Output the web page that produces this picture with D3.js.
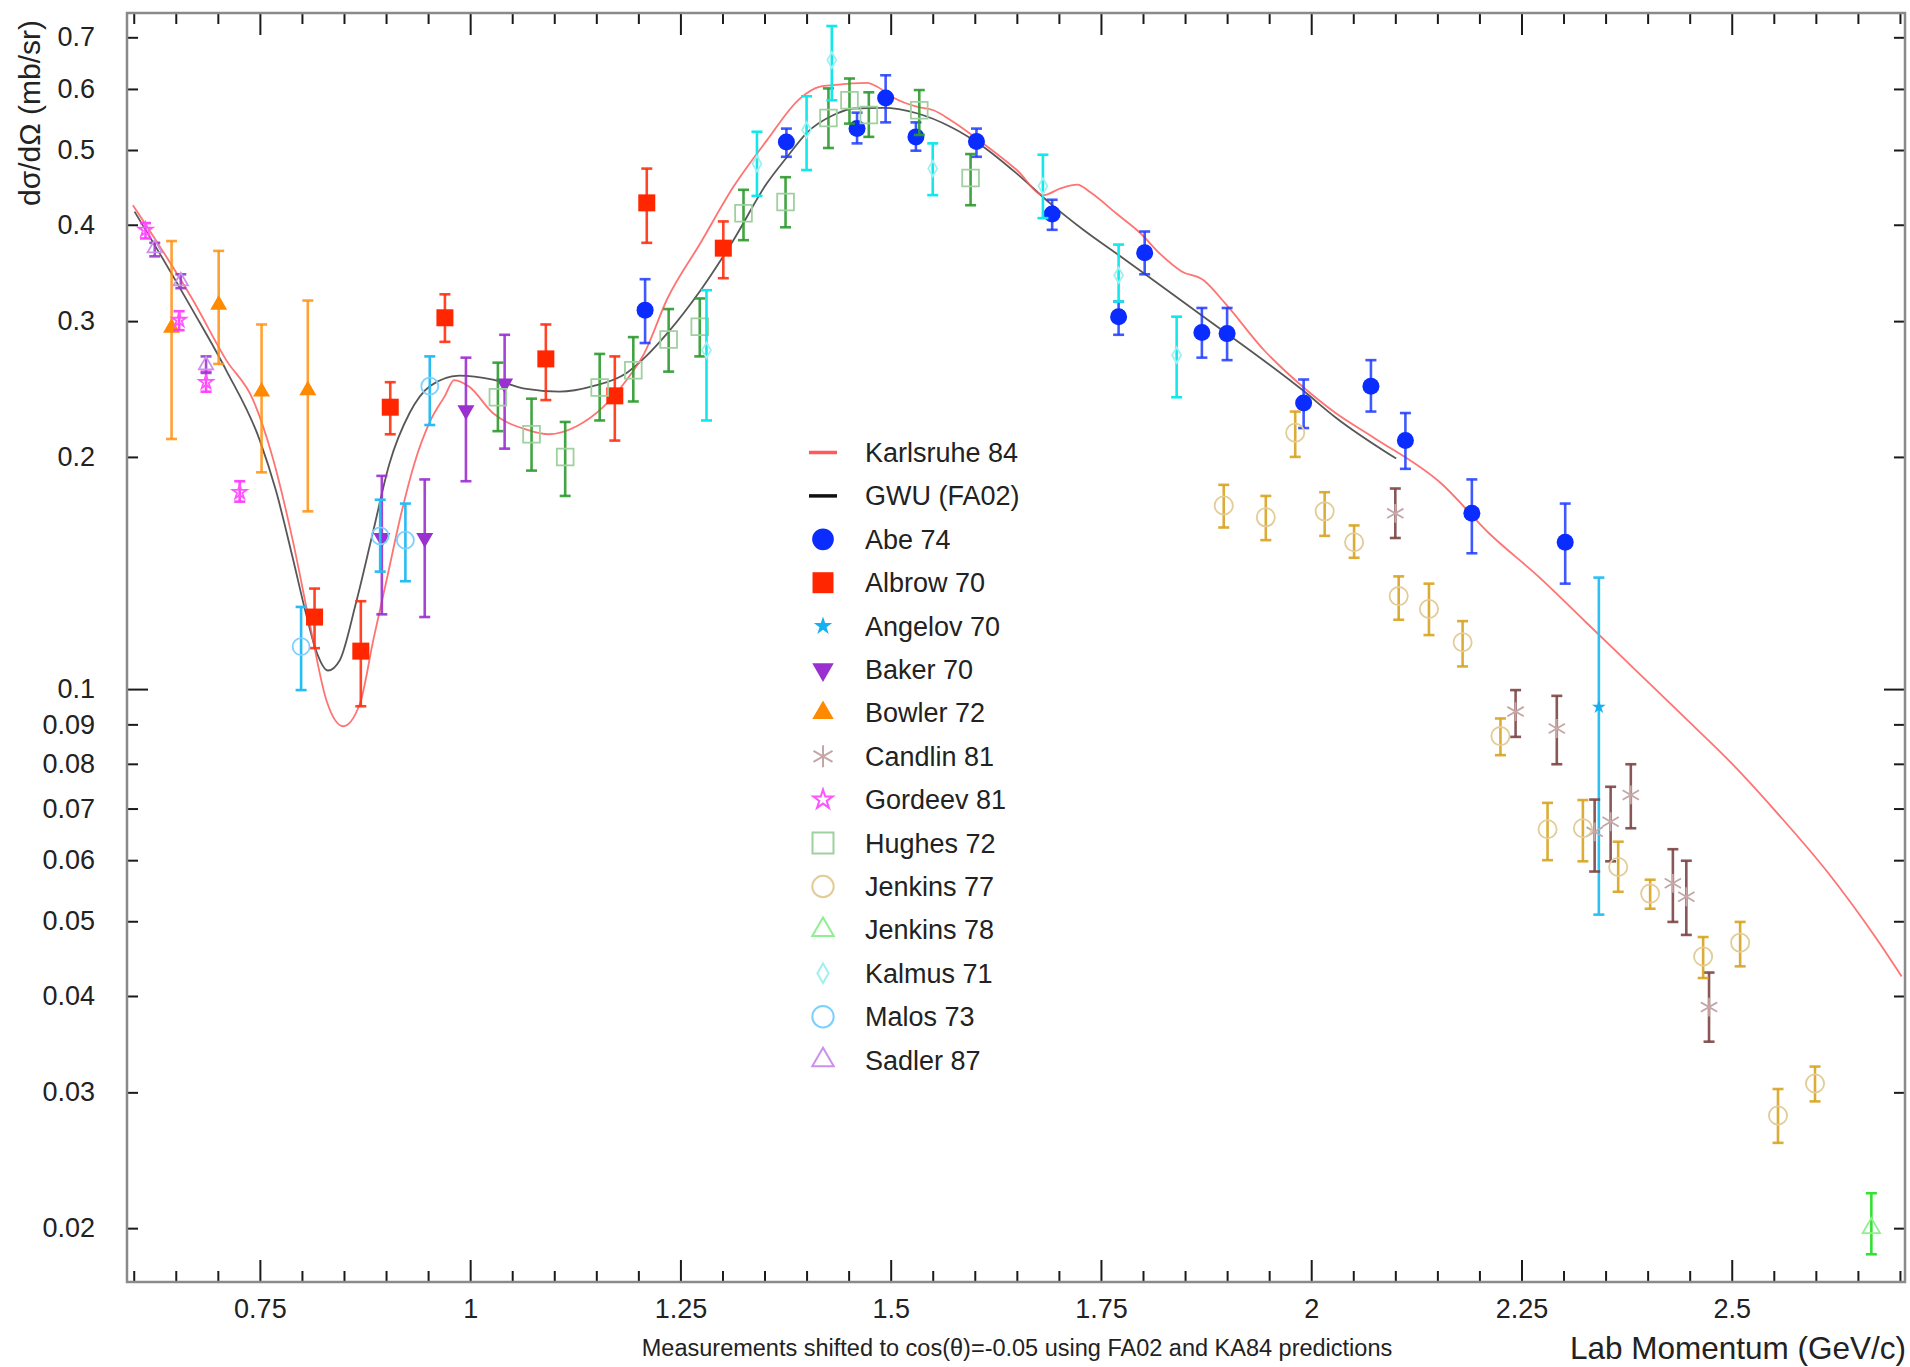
<!DOCTYPE html>
<html>
<head>
<meta charset="utf-8">
<script src="https://cdn.jsdelivr.net/npm/d3@7"></script>
<style>
  html, body { margin: 0; padding: 0; background: #fff; }
  svg { display: block; }
  text { font-family: "Liberation Sans", Arial, Helvetica, sans-serif; fill: #222; }
</style>
</head>
<body>
<svg id="chart" width="1910" height="1367"></svg>
<script>
// ---- Axis ticks ----
const xMajorTicks = [0.75, 1, 1.25, 1.5, 1.75, 2, 2.25, 2.5];
const yLabelTicks = [0.02, 0.03, 0.04, 0.05, 0.06, 0.07, 0.08, 0.09, 0.1, 0.2, 0.3, 0.4, 0.5, 0.6, 0.7];

// ---- Model predictions: [p_lab (GeV/c), dσ/dΩ (mb/sr)] ----
const karlsruhe84 = [
  [0.599, 0.424], [0.631, 0.375], [0.670, 0.320], [0.710, 0.267], [0.742, 0.237],
  [0.765, 0.200], [0.789, 0.156], [0.809, 0.122], [0.829, 0.0968], [0.849, 0.0895],
  [0.869, 0.0958], [0.885, 0.116], [0.901, 0.139], [0.917, 0.167], [0.933, 0.195],
  [0.952, 0.222], [0.970, 0.240], [0.981, 0.2516], [0.999, 0.2466], [1.027, 0.228],
  [1.067, 0.217], [1.094, 0.214], [1.126, 0.219], [1.158, 0.232], [1.186, 0.2516],
  [1.207, 0.2725], [1.234, 0.320], [1.274, 0.379], [1.313, 0.448], [1.353, 0.515],
  [1.392, 0.583], [1.416, 0.604], [1.432, 0.607], [1.472, 0.611], [1.484, 0.604],
  [1.503, 0.585], [1.531, 0.569], [1.551, 0.563], [1.571, 0.547], [1.610, 0.510],
  [1.650, 0.471], [1.682, 0.437], [1.702, 0.446], [1.722, 0.451], [1.737, 0.441],
  [1.768, 0.414], [1.797, 0.390], [1.820, 0.367], [1.846, 0.348], [1.872, 0.339],
  [1.898, 0.316], [1.944, 0.275], [1.990, 0.2466], [2.029, 0.228], [2.074, 0.212],
  [2.154, 0.185], [2.212, 0.159], [2.270, 0.140], [2.327, 0.122], [2.385, 0.106],
  [2.443, 0.0921], [2.500, 0.0801], [2.558, 0.0683], [2.615, 0.0577], [2.673, 0.0473],
  [2.702, 0.0424]
];
const gwuFA02 = [
  [0.601, 0.416], [0.631, 0.367], [0.670, 0.310], [0.710, 0.259], [0.750, 0.210],
  [0.769, 0.181], [0.789, 0.148], [0.805, 0.125], [0.817, 0.112], [0.831, 0.1057],
  [0.845, 0.109], [0.864, 0.129], [0.884, 0.159], [0.904, 0.196], [0.928, 0.228],
  [0.952, 0.247], [0.987, 0.255], [1.027, 0.252], [1.067, 0.245], [1.106, 0.243],
  [1.146, 0.247], [1.186, 0.257], [1.209, 0.270], [1.234, 0.289], [1.274, 0.329],
  [1.313, 0.382], [1.353, 0.453], [1.377, 0.490], [1.400, 0.526], [1.432, 0.555],
  [1.456, 0.566], [1.491, 0.567], [1.531, 0.558], [1.571, 0.536], [1.610, 0.505],
  [1.650, 0.466], [1.690, 0.426], [1.729, 0.394], [1.773, 0.364], [1.801, 0.346],
  [1.872, 0.304], [1.990, 0.244], [2.029, 0.225], [2.101, 0.199]
];

// ---- Measurements: [p_lab, dσ/dΩ, lower, upper] ----
const abe74 = [
  [1.208, 0.310, 0.281, 0.340], [1.376, 0.512, 0.490, 0.533], [1.460, 0.533, 0.510, 0.559],
  [1.494, 0.584, 0.543, 0.625], [1.530, 0.520, 0.499, 0.543], [1.602, 0.513, 0.490, 0.533],
  [1.692, 0.413, 0.394, 0.431], [1.771, 0.304, 0.288, 0.318], [1.802, 0.368, 0.345, 0.392],
  [1.870, 0.290, 0.269, 0.312], [1.900, 0.289, 0.267, 0.312], [1.991, 0.235, 0.218, 0.252],
  [2.071, 0.247, 0.229, 0.267], [2.112, 0.210, 0.193, 0.228], [2.191, 0.169, 0.150, 0.187],
  [2.302, 0.155, 0.137, 0.174]
];
const albrow70 = [
  [0.815, 0.124, 0.113, 0.135], [0.870, 0.112, 0.095, 0.130], [0.905, 0.232, 0.214, 0.250],
  [0.970, 0.303, 0.282, 0.325], [1.090, 0.268, 0.237, 0.297], [1.172, 0.240, 0.210, 0.270],
  [1.210, 0.427, 0.379, 0.473], [1.301, 0.373, 0.341, 0.404]
];
const angelov70 = [
  [2.342, 0.0948, 0.0510, 0.1395]
];
const baker70 = [
  [0.895, 0.157, 0.125, 0.189], [0.946, 0.157, 0.124, 0.187],
  [0.995, 0.230, 0.186, 0.269], [1.041, 0.249, 0.205, 0.288]
];
const bowler72 = [
  [0.645, 0.294, 0.211, 0.381], [0.701, 0.315, 0.264, 0.370],
  [0.752, 0.243, 0.191, 0.297], [0.807, 0.244, 0.170, 0.319]
];
const candlin81 = [
  [2.100, 0.169, 0.157, 0.182], [2.243, 0.0935, 0.0867, 0.0997], [2.292, 0.0889, 0.0799, 0.098],
  [2.337, 0.0653, 0.058, 0.0719], [2.356, 0.0673, 0.0598, 0.0747], [2.380, 0.0729, 0.066, 0.0799],
  [2.430, 0.056, 0.0499, 0.062], [2.446, 0.0538, 0.048, 0.0599], [2.473, 0.0387, 0.0349, 0.0429]
];
const gordeev81 = [
  [0.614, 0.394, 0.384, 0.402], [0.654, 0.301, 0.292, 0.309],
  [0.686, 0.250, 0.243, 0.258], [0.726, 0.180, 0.175, 0.186]
];
const hughes72 = [
  [1.033, 0.239, 0.216, 0.265], [1.073, 0.214, 0.192, 0.238], [1.113, 0.200, 0.178, 0.222],
  [1.154, 0.246, 0.223, 0.272], [1.194, 0.259, 0.236, 0.286], [1.236, 0.284, 0.258, 0.311],
  [1.273, 0.295, 0.270, 0.321], [1.325, 0.414, 0.382, 0.444], [1.375, 0.428, 0.397, 0.461],
  [1.426, 0.550, 0.503, 0.601], [1.451, 0.580, 0.541, 0.619], [1.474, 0.555, 0.520, 0.594],
  [1.534, 0.563, 0.523, 0.598], [1.595, 0.460, 0.424, 0.494]
];
const jenkins77 = [
  [1.896, 0.173, 0.162, 0.184], [1.946, 0.167, 0.156, 0.178], [1.981, 0.215, 0.200, 0.229],
  [2.016, 0.170, 0.158, 0.180], [2.051, 0.155, 0.148, 0.163], [2.104, 0.132, 0.123, 0.140],
  [2.140, 0.127, 0.1175, 0.137], [2.180, 0.115, 0.107, 0.1225], [2.225, 0.0869, 0.0821, 0.0916],
  [2.281, 0.0658, 0.060, 0.0712], [2.323, 0.066, 0.0598, 0.0718], [2.365, 0.0588, 0.0546, 0.0634],
  [2.403, 0.0543, 0.0519, 0.0566], [2.466, 0.0450, 0.0422, 0.0477], [2.510, 0.0469, 0.0437, 0.0499],
  [2.555, 0.0280, 0.0258, 0.0303], [2.599, 0.0308, 0.0292, 0.0324]
];
const jenkins78 = [
  [2.666, 0.0200, 0.0185, 0.0222]
];
const kalmus71 = [
  [1.281, 0.275, 0.223, 0.329], [1.341, 0.480, 0.436, 0.528], [1.400, 0.531, 0.471, 0.587],
  [1.430, 0.654, 0.580, 0.724], [1.550, 0.473, 0.437, 0.510], [1.681, 0.449, 0.408, 0.493],
  [1.771, 0.344, 0.318, 0.377], [1.840, 0.271, 0.239, 0.304]
];
const malos73 = [
  [0.799, 0.1135, 0.0997, 0.1278], [0.893, 0.158, 0.142, 0.176],
  [0.923, 0.156, 0.138, 0.174], [0.952, 0.247, 0.220, 0.270]
];
const sadler87 = [
  [0.625, 0.373, 0.364, 0.379], [0.656, 0.338, 0.331, 0.345], [0.686, 0.263, 0.257, 0.270]
];

// ---- Layout ----
const svg = d3.select("#chart");
const plot = { left: 127, right: 1905, top: 13, bottom: 1282 };

const x = d3.scaleLinear().domain([0.592, 2.706]).range([plot.left, plot.right]);
const y = d3.scaleLog().domain([0.01703, 0.7527]).range([plot.bottom, plot.top]);

// ---- Axes: inward ticks on all four sides ----
const xMinorTicks = d3.range(0.6, 2.701, 0.05).map(v => +v.toFixed(2))
  .filter(v => !xMajorTicks.some(t => Math.abs(t - v) < 1e-6));
const yMinorTicks = yLabelTicks.filter(v => v !== 0.1);

function styleAxis(g) {
  g.select(".domain").remove();
  g.selectAll(".tick line").attr("stroke", "#1a1a1a").attr("stroke-width", 2);
  g.selectAll(".tick text").style("font-size", "27px").attr("fill", "#222");
}

svg.append("g").attr("transform", `translate(0,${plot.bottom})`)
  .call(d3.axisBottom(x).tickValues(xMajorTicks).tickSize(-22).tickPadding(17)
    .tickFormat(d3.format("~g")))
  .call(styleAxis);
svg.append("g").attr("transform", `translate(0,${plot.bottom})`)
  .call(d3.axisBottom(x).tickValues(xMinorTicks).tickSize(-11).tickFormat(""))
  .call(styleAxis);
svg.append("g").attr("transform", `translate(0,${plot.top})`)
  .call(d3.axisTop(x).tickValues(xMajorTicks).tickSize(-22).tickFormat(""))
  .call(styleAxis);
svg.append("g").attr("transform", `translate(0,${plot.top})`)
  .call(d3.axisTop(x).tickValues(xMinorTicks).tickSize(-11).tickFormat(""))
  .call(styleAxis);

svg.append("g").attr("transform", `translate(${plot.left},0)`)
  .call(d3.axisLeft(y).tickValues(yMinorTicks).tickSize(-11).tickPadding(32)
    .tickFormat(d3.format("~g")))
  .call(styleAxis);
svg.append("g").attr("transform", `translate(${plot.left},0)`)
  .call(d3.axisLeft(y).tickValues([0.1]).tickSize(-21).tickPadding(32)
    .tickFormat(d3.format("~g")))
  .call(styleAxis);
svg.append("g").attr("transform", `translate(${plot.right},0)`)
  .call(d3.axisRight(y).tickValues(yMinorTicks).tickSize(-11).tickFormat(""))
  .call(styleAxis);
svg.append("g").attr("transform", `translate(${plot.right},0)`)
  .call(d3.axisRight(y).tickValues([0.1]).tickSize(-21).tickFormat(""))
  .call(styleAxis);

// frame
svg.append("rect")
  .attr("x", plot.left).attr("y", plot.top)
  .attr("width", plot.right - plot.left).attr("height", plot.bottom - plot.top)
  .attr("fill", "none").attr("stroke", "#8a8a8a").attr("stroke-width", 2.5);

// ---- Titles ----
svg.append("text")
  .attr("transform", "translate(40,113) rotate(-90)")
  .attr("text-anchor", "middle")
  .style("font-size", "30px")
  .text("dσ/dΩ (mb/sr)");
svg.append("text")
  .attr("x", 1906).attr("y", 1359)
  .attr("text-anchor", "end")
  .style("font-size", "31.5px")
  .text("Lab Momentum (GeV/c)");
svg.append("text")
  .attr("x", 1017).attr("y", 1356)
  .attr("text-anchor", "middle")
  .style("font-size", "23.5px")
  .text("Measurements shifted to cos(θ)=-0.05 using FA02 and KA84 predictions");

// ---- Model curves ----
svg.append("clipPath").attr("id", "plotClip")
  .append("rect").attr("x", plot.left).attr("y", plot.top)
  .attr("width", plot.right - plot.left).attr("height", plot.bottom - plot.top);

const line = d3.line().x(d => x(d[0])).y(d => y(d[1])).curve(d3.curveMonotoneX);
const curves = svg.append("g").attr("clip-path", "url(#plotClip)");
curves.append("path").datum(gwuFA02)
  .attr("d", line).attr("fill", "none")
  .attr("stroke", "#3a3a3a").attr("stroke-opacity", 0.85).attr("stroke-width", 1.8);
curves.append("path").datum(karlsruhe84)
  .attr("d", line).attr("fill", "none")
  .attr("stroke", "#ff5a5a").attr("stroke-opacity", 0.85).attr("stroke-width", 1.8);

// ---- Data series ----
const series = [
  { name: "Abe 74", data: abe74, shape: d3.symbolCircle, size: 227, legendSize: 370,
    fill: "#0a2cff", stroke: "none", bar: "#1f3cff", barOpacity: 0.85 },
  { name: "Albrow 70", data: albrow70, shape: d3.symbolSquare, size: 289, legendSize: 440,
    fill: "#ff2600", stroke: "none", bar: "#ff3010", barOpacity: 0.9 },
  { name: "Angelov 70", data: angelov70, shape: d3.symbolStar, size: 60, legendSize: 105,
    fill: "#14b0f0", stroke: "none", bar: "#2cc0f4", barOpacity: 1 },
  { name: "Baker 70", data: baker70, shape: d3.symbolTriangle, size: 125, legendSize: 200,
    fill: "#9a30d0", stroke: "none", bar: "#9a30d0", barOpacity: 0.9, rotate: 180 },
  { name: "Bowler 72", data: bowler72, shape: d3.symbolTriangle, size: 125, legendSize: 200,
    fill: "#ff8a00", stroke: "none", bar: "#ff9010", barOpacity: 0.85 },
  { name: "Candlin 81", data: candlin81, shape: d3.symbolAsterisk, size: 250, legendSize: 340,
    fill: "none", stroke: "#c4a6a6", bar: "#7d4545", barOpacity: 0.9 },
  { name: "Gordeev 81", data: gordeev81, shape: d3.symbolStar, size: 60, legendSize: 115,
    fill: "none", stroke: "#ff55ff", bar: "#ff33ff", barOpacity: 0.9 },
  { name: "Hughes 72", data: hughes72, shape: d3.symbolSquare, size: 280, legendSize: 440,
    fill: "none", stroke: "#9fd09f", bar: "#2f9a2f", barOpacity: 0.9 },
  { name: "Jenkins 77", data: jenkins77, shape: d3.symbolCircle, size: 260, legendSize: 360,
    fill: "none", stroke: "#e2cc98", bar: "#d8a420", barOpacity: 0.9 },
  { name: "Jenkins 78", data: jenkins78, shape: d3.symbolTriangle, size: 130, legendSize: 200,
    fill: "none", stroke: "#8ef08e", bar: "#33e033", barOpacity: 1 },
  { name: "Kalmus 71", data: kalmus71, shape: d3.symbolDiamond, size: 70, legendSize: 110,
    fill: "none", stroke: "#a0f0f0", bar: "#10e8ec", barOpacity: 1 },
  { name: "Malos 73", data: malos73, shape: d3.symbolCircle, size: 227, legendSize: 360,
    fill: "none", stroke: "#7cd0ff", bar: "#28bcf4", barOpacity: 1 },
  { name: "Sadler 87", data: sadler87, shape: d3.symbolTriangle, size: 90, legendSize: 200,
    fill: "none", stroke: "#cc90ee", bar: "#9a3cc8", barOpacity: 0.9 }
];

const marks = svg.append("g").attr("clip-path", "url(#plotClip)");
const capHalf = 5.5;

series.forEach(s => {
  const g = marks.append("g").attr("class", "series");
  // error bars
  const eb = g.selectAll(".eb").data(s.data).join("g")
    .attr("stroke", s.bar).attr("stroke-opacity", s.barOpacity).attr("stroke-width", 2.6);
  eb.append("line")
    .attr("x1", d => x(d[0])).attr("x2", d => x(d[0]))
    .attr("y1", d => y(d[2])).attr("y2", d => y(d[3]));
  eb.append("line")
    .attr("x1", d => x(d[0]) - capHalf).attr("x2", d => x(d[0]) + capHalf)
    .attr("y1", d => y(d[2])).attr("y2", d => y(d[2]));
  eb.append("line")
    .attr("x1", d => x(d[0]) - capHalf).attr("x2", d => x(d[0]) + capHalf)
    .attr("y1", d => y(d[3])).attr("y2", d => y(d[3]));
  // markers
  const sym = d3.symbol().type(s.shape).size(s.size);
  g.selectAll(".pt").data(s.data).join("path")
    .attr("d", sym)
    .attr("transform", d => `translate(${x(d[0])},${y(d[1])})` + (s.rotate ? ` rotate(${s.rotate})` : ""))
    .attr("fill", s.fill === "none" ? "none" : s.fill)
    .attr("stroke", s.stroke)
    .attr("stroke-width", s.stroke === "none" ? 0 : 1.8);
});

// ---- Legend ----
const legend = svg.append("g");
const legX = 823, legTextX = 865, legY0 = 452.5, legStep = 43.4;

legend.append("line").attr("x1", legX - 14).attr("x2", legX + 14)
  .attr("y1", legY0).attr("y2", legY0)
  .attr("stroke", "#ff5a5a").attr("stroke-width", 3.5);
legend.append("text").attr("x", legTextX).attr("y", legY0).attr("dy", "0.35em")
  .style("font-size", "27px").text("Karlsruhe 84");
legend.append("line").attr("x1", legX - 14).attr("x2", legX + 14)
  .attr("y1", legY0 + legStep).attr("y2", legY0 + legStep)
  .attr("stroke", "#111").attr("stroke-width", 3.5);
legend.append("text").attr("x", legTextX).attr("y", legY0 + legStep).attr("dy", "0.35em")
  .style("font-size", "27px").text("GWU (FA02)");

series.forEach((s, i) => {
  const cy = legY0 + legStep * (i + 2);
  legend.append("path")
    .attr("d", d3.symbol().type(s.shape).size(s.legendSize))
    .attr("transform", `translate(${legX},${cy})` + (s.rotate ? ` rotate(${s.rotate})` : ""))
    .attr("fill", s.fill === "none" ? "none" : s.fill)
    .attr("stroke", s.stroke)
    .attr("stroke-width", s.stroke === "none" ? 0 : 2);
  legend.append("text").attr("x", legTextX).attr("y", cy).attr("dy", "0.35em")
    .style("font-size", "27px").text(s.name);
});
</script>
</body>
</html>
